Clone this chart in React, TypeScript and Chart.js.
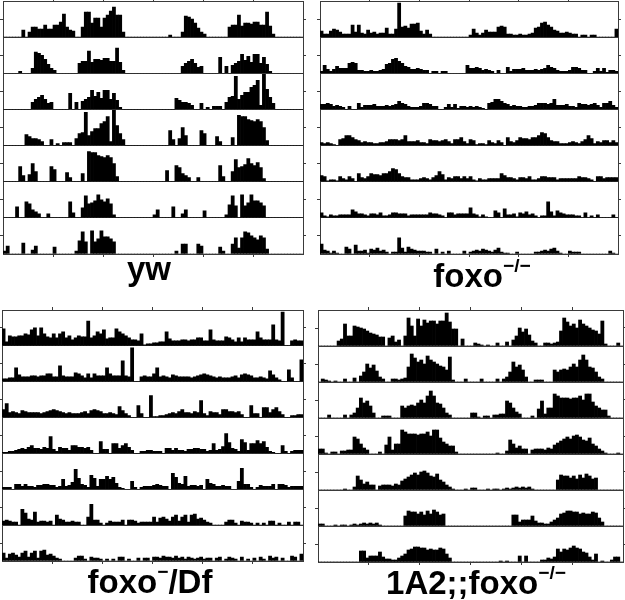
import React, { useEffect, useRef } from "react";
import { Chart, registerables } from "chart.js";

Chart.register(...registerables);

// Double-plotted actograms: 8 days x 48 half-hour bins; row r shows day r and day r+1.
const ROWS = 7;
const BINS_PER_DAY = 48;
const Y_MAX = 36;
const TICK_EVERY = 16;

const ywDays: number[][] = [
  [0,0,0,0,0,0,7,0,5,10,10,8,8,12,8,8,12,12,15,23,10,7,6,0,0,10,25,25,14,19,19,10,19,22,26,30,22,22,5,0,0,0,0,0,0,0,0,0],
  [0,0,0,0,0,2,0,0,0,5,21,20,18,14,9,5,3,0,0,0,0,0,0,0,10,12,12,22,11,14,14,13,15,15,12,12,25,11,3,0,0,0,0,0,0,0,0,0],
  [0,0,0,0,0,0,0,0,0,7,10,12,14,10,6,7,0,0,0,0,0,16,0,7,0,8,10,12,19,13,17,11,19,19,10,16,9,2,0,0,0,0,0,0,0,0,0,0],
  [0,0,0,0,0,0,0,11,9,7,7,6,4,0,0,6,0,2,0,3,3,3,0,7,12,13,33,10,14,17,17,22,24,29,4,35,20,12,6,0,0,0,0,0,0,0,0,0],
  [0,0,0,0,0,15,6,0,7,18,10,0,0,0,0,15,12,0,0,0,9,4,0,0,0,8,0,30,29,29,26,25,24,26,24,18,5,0,0,0,0,0,0,0,0,0,0,0],
  [0,0,0,0,11,0,0,16,14,8,6,4,0,0,4,0,0,0,0,0,0,16,5,0,0,10,22,14,15,17,23,18,16,19,14,3,0,0,0,0,0,0,0,0,0,0,0,0],
  [3,8,0,0,0,0,11,0,0,4,8,0,0,0,0,0,7,0,0,0,0,0,0,3,13,22,12,0,23,12,15,23,17,17,15,12,0,0,0,0,0,0,0,0,0,0,0,0],
  [0,0,0,0,0,0,0,3,0,10,10,0,0,0,10,8,0,0,0,0,0,7,3,0,0,10,16,6,16,22,21,18,16,14,18,16,5,0,0,0,0,0,0,0,0,0,0,0],
];

const foxoDays: number[][] = [
  [6,3,3,6,8,7,5,3,3,3,12,5,12,4,3,7,4,5,3,4,4,9,3,3,8,34,10,11,9,13,13,14,6,3,7,3,0,0,0,0,0,0,0,0,0,0,0,0],
  [2,8,4,2,4,7,5,5,5,10,11,10,3,3,2,2,3,2,2,3,4,9,10,14,15,12,10,7,6,4,4,5,4,3,3,0,2,2,0,2,2,0,0,0,0,0,0,8],
  [5,5,6,5,3,4,3,2,0,3,0,0,6,2,4,4,4,5,3,3,3,4,3,4,5,8,6,5,3,2,2,2,3,6,6,5,3,3,0,0,2,5,2,5,1,3,3,2],
  [3,2,3,2,1,0,6,7,10,10,8,6,5,3,4,3,3,2,2,3,3,4,6,6,6,5,6,10,4,4,4,5,3,3,2,6,5,5,4,5,6,4,2,6,6,8,4,2],
  [6,5,1,2,2,1,5,3,2,5,3,0,8,4,3,5,8,7,7,6,8,8,10,13,12,8,5,4,4,2,2,2,3,4,3,2,4,6,10,7,2,4,3,5,5,3,5,3],
  [5,2,1,3,2,2,3,3,3,3,8,6,4,4,3,2,4,4,3,5,2,2,3,5,5,4,4,4,2,3,3,3,3,3,3,5,4,4,3,2,0,5,5,3,4,4,4,4],
  [10,4,3,1,3,1,0,0,7,5,0,9,3,3,4,1,5,4,6,3,4,2,0,2,2,16,6,2,7,5,4,3,3,3,2,2,0,5,0,2,0,3,0,0,0,0,3,0],
  [2,3,4,3,5,4,3,2,4,6,2,1,1,0,0,2,0,0,0,0,0,2,2,3,4,3,5,6,3,1,0,0,3,2,2,2,0,0,0,0,0,0,0,0,0,3,1,0],
];

const foxoDfDays: number[][] = [
  [17,4,10,9,9,10,10,12,11,16,18,10,18,12,9,8,12,8,12,14,8,10,6,8,10,9,9,25,8,10,14,12,16,7,8,8,17,14,12,10,8,6,6,5,12,1,2,2],
  [3,3,4,4,14,7,5,5,5,6,6,5,6,6,8,8,5,5,16,6,5,5,5,9,8,6,4,8,4,8,6,6,6,14,8,6,6,6,21,6,5,34,0,0,5,6,5,5],
  [8,14,5,6,5,4,7,6,5,5,5,5,4,5,6,7,8,7,6,5,4,5,4,4,4,5,6,4,7,8,7,6,4,4,5,4,3,11,7,4,2,0,0,12,4,0,0,22],
  [1,1,2,2,3,4,5,4,6,8,5,5,4,6,5,17,4,2,6,5,5,3,8,8,6,6,5,6,3,0,0,12,4,4,0,10,10,5,8,10,6,3,0,0,2,2,3,3],
  [2,2,2,0,5,5,3,5,3,3,2,4,4,5,5,4,4,2,3,10,3,4,7,20,11,5,4,2,14,11,3,10,10,13,10,12,6,2,1,0,0,8,2,0,2,3,3,3],
  [4,5,4,3,3,0,16,12,6,5,13,3,4,4,3,4,0,10,6,5,3,3,4,3,3,0,0,8,21,5,5,2,0,2,4,3,3,3,5,0,5,5,4,2,3,3,3,3],
  [8,3,7,8,6,4,8,10,4,8,10,3,10,11,6,7,5,3,2,0,0,0,0,3,5,5,2,0,4,3,3,2,0,2,0,2,0,4,4,0,2,0,0,3,0,3,3,0],
  [4,4,3,5,4,4,3,5,3,4,2,4,3,2,3,4,2,3,3,0,3,4,0,2,4,3,2,0,4,0,2,0,3,0,4,2,0,5,3,4,0,3,0,0,5,4,0,7],
];

const rescueDays: number[][] = [
  [0,0,0,0,0,0,5,7,22,10,10,20,19,18,17,15,13,12,11,9,9,0,8,10,4,6,0,10,28,20,10,27,20,26,23,25,25,22,25,25,33,24,17,17,0,7,0,0],
  [0,3,2,1,0,1,0,0,3,0,0,4,0,6,10,18,14,17,11,5,3,0,0,3,3,2,3,4,15,28,24,20,22,18,26,22,20,18,16,15,12,25,2,0,0,0,3,0],
  [0,0,0,3,0,0,0,0,3,0,3,5,10,20,15,17,12,5,0,0,2,2,2,0,0,0,12,10,12,13,12,15,18,15,22,27,22,15,14,10,5,3,0,0,0,0,0,0],
  [5,5,1,0,2,2,0,3,3,4,4,17,15,10,6,4,0,0,0,2,0,9,17,4,10,10,24,22,20,20,20,19,20,20,22,18,24,24,16,12,10,8,8,2,0,0,0,0],
  [0,0,0,0,0,0,0,0,1,0,0,3,14,10,6,8,5,5,0,4,5,5,5,4,6,5,9,11,13,15,17,15,18,19,17,14,13,16,10,8,5,3,1,0,0,0,1,0],
  [2,2,0,0,0,1,0,1,1,0,1,2,1,2,3,2,3,2,3,1,0,0,0,0,0,0,0,10,15,14,14,12,14,11,15,12,16,14,11,12,0,0,0,0,0,0,0,0],
  [0,0,0,0,0,0,0,0,0,0,0,0,0,11,11,4,6,6,6,10,5,3,3,2,2,4,6,8,12,13,15,15,14,14,12,13,12,12,14,13,8,4,0,0,0,0,0,0],
  [0,0,0,0,0,0,0,0,0,1,0,1,0,0,0,6,0,6,0,0,0,0,2,2,4,3,5,13,10,13,12,14,16,14,13,10,9,5,2,8,0,1,0,0,2,5,5,0],
];

const LINE = "#3a3a3a";
const BAR = "#000000";
const PAD_X = 6;
const PAD_Y = 5;

function buildRows(days: number[][]): number[][] {
  const rows: number[][] = [];
  for (let r = 0; r < ROWS; r++) rows.push([...days[r], ...days[r + 1]]);
  return rows;
}

type PanelProps = { days: number[][]; left: number; top: number; right: number; bottom: number };

function Panel({ days, left, top, right, bottom }: PanelProps) {
  const ref = useRef<HTMLCanvasElement>(null);
  const w = right - left + PAD_X * 2;
  const h = bottom - top + PAD_Y * 2;

  useEffect(() => {
    if (!ref.current) return;
    const rows = buildRows(days);
    const labels = Array.from({ length: BINS_PER_DAY * 2 }, (_, i) => String(i));
    const xTick = (c: any) => (c.index % TICK_EVERY === 0 && c.index > 0 ? LINE : "transparent");
    const scales: any = {
      x: {
        type: "category", position: "bottom", labels, offset: true,
        grid: { offset: true, drawOnChartArea: false, tickLength: 3, color: xTick, tickColor: xTick },
        border: { display: true, color: LINE, width: 1 },
        ticks: { display: false, autoSkip: false },
      },
      xTop: {
        type: "category", position: "top", labels, offset: true,
        grid: { offset: true, drawOnChartArea: false, tickLength: 3, color: xTick, tickColor: xTick },
        border: { display: true, color: LINE, width: 1 },
        ticks: { display: false, autoSkip: false },
      },
      yRight: {
        type: "linear", position: "right", min: 0, max: ROWS,
        afterBuildTicks: (s: any) => { s.ticks = Array.from({ length: ROWS }, (_, i) => ({ value: i + 0.5 })); },
        grid: { drawOnChartArea: false, tickLength: 3, color: LINE },
        border: { display: true, color: LINE, width: 1 },
        ticks: { display: false },
      },
    };
    rows.forEach((_, r) => {
      scales["y" + r] = {
        type: "linear", position: "left", stack: "rows", stackWeight: 1, weight: ROWS - r,
        min: 0, max: Y_MAX,
        afterBuildTicks: (s: any) => { s.ticks = [{ value: 0 }, { value: Y_MAX / 2 }, { value: Y_MAX }]; },
        grid: {
          drawOnChartArea: true, tickLength: 3, lineWidth: 1,
          color: (c: any) => (c.tick && c.tick.value === 0 ? LINE : "transparent"),
          tickColor: (c: any) => (c.tick && c.tick.value === Y_MAX / 2 ? LINE : "transparent"),
        },
        border: { display: true, color: LINE, width: 1 },
        ticks: { display: false },
      };
    });

    const chart = new Chart(ref.current, {
      type: "bar",
      data: {
        labels,
        datasets: rows.map((row, r) => ({
          data: row,
          xAxisID: "x",
          yAxisID: "y" + r,
          backgroundColor: BAR,
          borderWidth: 0,
          grouped: false,
          barPercentage: 1,
          categoryPercentage: 1,
        })),
      },
      options: {
        animation: false,
        responsive: false,
        devicePixelRatio: 1,
        layout: { padding: { left: PAD_X - 3, right: PAD_X - 3, top: PAD_Y - 3, bottom: PAD_Y - 3 } },
        plugins: { legend: { display: false }, tooltip: { enabled: false }, title: { display: false } },
        scales,
      },
    });
    return () => chart.destroy();
  }, [days]);

  return (
    <canvas
      ref={ref}
      width={w}
      height={h}
      style={{ position: "absolute", left: left - PAD_X, top: top - PAD_Y, width: w, height: h }}
    />
  );
}

const titleStyle: React.CSSProperties = {
  position: "absolute",
  width: 300,
  textAlign: "center",
  fontFamily: "'Liberation Sans', Arial, sans-serif",
  fontWeight: "bold",
  fontSize: 33,
  lineHeight: "33px",
  color: "#000",
  whiteSpace: "nowrap",
};

const supStyle: React.CSSProperties = {
  fontSize: "0.58em",
  position: "relative",
  top: "-0.8em",
  lineHeight: 0,
};

function Title({ cx, baseline, children }: { cx: number; baseline: number; children: React.ReactNode }) {
  return <div style={{ ...titleStyle, left: cx - 150, top: baseline - 28 }}>{children}</div>;
}

export default function App() {
  return (
    <div style={{ position: "absolute", left: 0, top: 0, width: 625, height: 600, background: "#fff", overflow: "hidden" }}>
      <Panel days={ywDays} left={3} top={1} right={303} bottom={254} />
      <Panel days={foxoDays} left={320} top={1} right={618} bottom={254} />
      <Panel days={foxoDfDays} left={2} top={310} right={303} bottom={561} />
      <Panel days={rescueDays} left={318} top={310} right={623} bottom={562} />
      <Title cx={149} baseline={280}>yw</Title>
      <Title cx={482} baseline={287}>foxo<span style={supStyle}>−/−</span></Title>
      <Title cx={150} baseline={593}>foxo<span style={supStyle}>−</span>/Df</Title>
      <Title cx={476} baseline={594}>1A2;;foxo<span style={supStyle}>−/−</span></Title>
    </div>
  );
}
